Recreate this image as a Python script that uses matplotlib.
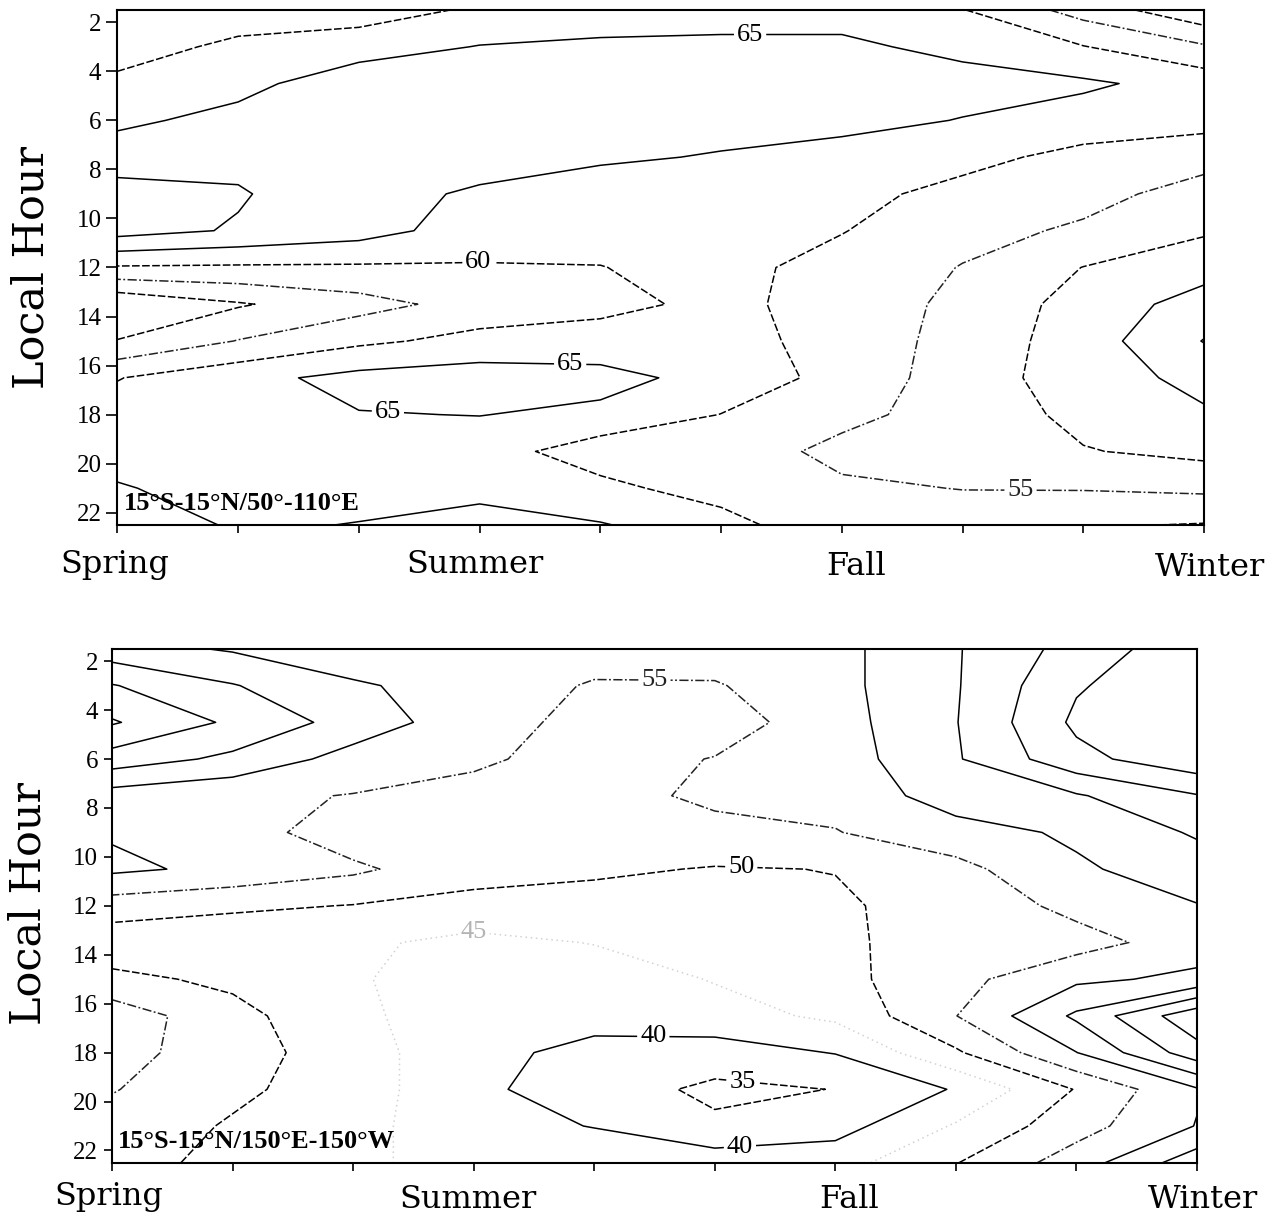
import numpy as np
import matplotlib
matplotlib.use("Agg")
import matplotlib.pyplot as plt
from matplotlib.transforms import ScaledTranslation

plt.rcParams["font.family"] = "Liberation Serif"
plt.rcParams["lines.dashed_pattern"] = [5.0, 1.6]
plt.rcParams["lines.dashdot_pattern"] = [6.0, 1.6, 1.2, 1.6]
plt.rcParams["lines.dotted_pattern"] = [1.0, 2.4]

# grid: local hour (3-hour bins split in halves) x month from spring to winter
hours = [1.5, 3.0, 4.5, 6.0, 7.5, 9.0, 10.5, 12.0, 13.5, 15.0, 16.5, 18.0, 19.5, 21.0, 22.5]
months = [0, 1, 2, 3, 4, 5, 6, 7, 8, 9]
season_labels = ["Spring", "", "", "Summer", "", "", "Fall", "", "", "Winter"]
hour_ticks = [2, 4, 6, 8, 10, 12, 14, 16, 18, 20, 22]

# one row per month, one value per local hour
indian_ocean = [
    [55.0, 58.0, 61.0, 64.0, 67.5, 72.0, 72.0, 59.5, 45.5, 50.2, 59.8, 62.0, 63.5, 65.3, 67.0],
    [57.5, 61.0, 63.5, 66.5, 68.5, 70.5, 69.5, 59.3, 49.5, 55.2, 63.5, 64.0, 63.0, 63.5, 64.6],
    [57.5, 62.8, 68.0, 69.0, 68.5, 66.3, 67.1, 59.3, 53.1, 59.0, 66.5, 64.8, 63.5, 64.0, 65.1],
    [60.8, 65.2, 66.5, 67.0, 66.5, 64.5, 62.5, 59.6, 57.0, 61.5, 67.5, 65.1, 62.5, 64.4, 65.8],
    [63.5, 65.5, 66.5, 66.5, 65.4, 63.6, 61.5, 59.9, 58.5, 62.3, 66.5, 64.0, 57.1, 61.5, 65.3],
    [64.0, 65.5, 66.5, 66.0, 64.8, 63.5, 62.5, 61.5, 61.3, 62.0, 63.4, 59.9, 57.0, 57.5, 62.3],
    [64.0, 65.5, 66.0, 65.8, 64.0, 61.5, 60.2, 58.2, 57.9, 58.0, 58.2, 56.0, 54.0, 55.6, 55.3],
    [60.2, 64.3, 66.0, 64.9, 61.5, 58.5, 56.5, 54.8, 53.8, 53.2, 52.5, 53.4, 53.5, 54.9, 57.0],
    [53.0, 60.2, 65.8, 62.8, 58.5, 56.5, 54.3, 49.9, 48.0, 47.5, 47.5, 48.5, 50.3, 54.7, 59.5],
    [46.0, 55.6, 63.1, 61.9, 56.6, 53.2, 50.6, 46.9, 42.9, 39.8, 43.5, 45.6, 48.6, 54.0, 60.3],
]

west_pacific = [
    [62.0, 70.3, 75.5, 67.7, 57.8, 59.5, 61.0, 52.5, 47.0, 51.2, 58.0, 57.0, 55.3, 53.0, 52.0],
    [59.5, 65.3, 69.1, 63.9, 56.0, 57.5, 58.8, 51.0, 46.0, 49.0, 51.5, 52.0, 51.0, 49.5, 48.5],
    [57.0, 60.6, 63.0, 58.0, 54.8, 52.0, 56.0, 49.8, 46.0, 45.5, 46.3, 47.5, 47.5, 46.5, 46.0],
    [57.0, 58.0, 57.0, 55.8, 53.5, 52.0, 51.5, 48.8, 43.5, 42.5, 41.5, 41.0, 41.0, 42.0, 43.0],
    [57.5, 54.5, 53.5, 53.0, 53.2, 52.0, 50.8, 48.1, 45.2, 42.2, 41.2, 39.0, 37.5, 39.8, 43.5],
    [57.5, 54.6, 52.5, 55.2, 56.0, 53.6, 49.7, 47.5, 46.3, 45.3, 43.0, 37.8, 33.9, 35.9, 42.7],
    [58.5, 58.5, 58.0, 57.5, 56.5, 54.8, 50.1, 49.5, 49.2, 48.5, 46.0, 40.2, 35.1, 38.0, 43.0],
    [64.6, 64.6, 64.8, 64.5, 62.5, 58.0, 53.5, 51.5, 52.0, 53.5, 54.9, 49.3, 40.4, 45.5, 49.8],
    [72.0, 74.5, 76.0, 73.5, 64.5, 60.8, 59.3, 56.5, 53.0, 59.0, 65.9, 59.9, 50.3, 53.0, 57.5],
    [78.4, 79.0, 79.0, 78.5, 69.7, 65.6, 62.5, 59.8, 57.6, 61.1, 78.7, 73.0, 59.5, 60.2, 68.0],
]

# level -> (linestyle, colour)
io_styles = {
    40: ("solid", "black"),
    45: ("solid", "black"),
    50: ("dashed", "black"),
    55: ("dashdot", "#222222"),
    60: ("dashed", "black"),
    65: ("solid", "black"),
    70: ("solid", "black"),
}
wp_styles = {
    35: ("dashed", "black"),
    40: ("solid", "black"),
    45: ("dotted", "#d2d2d2"),
    50: ("dashed", "black"),
    55: ("dashdot", "#222222"),
    60: ("solid", "black"),
    65: ("solid", "black"),
    70: ("solid", "black"),
    75: ("solid", "black"),
}

# (level, month, hour) where contour labels sit
io_labels = [(65, 5.24, 2.5), (60, 2.99, 11.8), (65, 3.75, 15.9), (65, 2.24, 17.9), (55, 7.48, 21.1)]
wp_labels = [(55, 4.5, 2.7), (50, 5.22, 10.35), (45, 3.0, 13.0), (40, 4.49, 17.3), (35, 5.23, 19.1), (40, 5.21, 21.95)]


def _shift_labels(fig, ax, offsets):
    for lab, (dx, dy) in zip(ax.get_xticklabels()[::3], offsets):
        lab.set_transform(lab.get_transform() + ScaledTranslation(dx / 72, dy / 72, fig.dpi_scale_trans))


def draw_panel(fig, rect, grid, styles, labels, region, ylen, ypad, xlen, xpad, offsets):
    ax = fig.add_axes(rect)
    z = np.array(grid).T
    ax.set_xlim(0, 9)
    ax.set_ylim(22.5, 1.5)

    for level, (ls, color) in styles.items():
        cs = ax.contour(months, hours, z, levels=[level], colors=color,
                        linewidths=1.1, linestyles=ls)
        spots = [(m, h) for lev, m, h in labels if lev == level]
        if spots:
            label_color = "#b4b4b4" if color != "black" and level == 45 else color
            texts = ax.clabel(cs, fmt="%d", manual=spots, inline=True,
                              inline_spacing=3, fontsize=19, colors=label_color)
            for t in texts:
                t.set_rotation(0)

    ax.set_xticks(months)
    ax.set_xticklabels(season_labels, fontfamily="DejaVu Serif", fontsize=23)
    ax.set_yticks(hour_ticks)
    ax.set_yticklabels([str(h) for h in hour_ticks], fontsize=18)
    ax.tick_params(axis="y", direction="out", length=ylen, width=1.2, pad=ypad)
    ax.tick_params(axis="x", direction="out", length=xlen, width=1.2, pad=xpad)
    for side in ax.spines.values():
        side.set_linewidth(1.5)
    _shift_labels(fig, ax, offsets)

    ax.text(0.05, 21.9, region, fontsize=19, fontweight="bold", va="baseline", ha="left")
    return ax


fig = plt.figure(figsize=(12.85, 12.18), dpi=100)

draw_panel(fig, [0.0914, 0.569, 0.8456, 0.4228], indian_ocean, io_styles, io_labels,
           "15°S-15°N/50°-110°E", 8, 3.5, 5.5, 12,
           [(-2, 0), (-3, 0), (10, -1), (4, -2)])
draw_panel(fig, [0.0872, 0.0454, 0.8443, 0.4218], west_pacific, wp_styles, wp_labels,
           "15°S-15°N/150°E-150°W", 6, 4, 6, 7,
           [(-2, 0), (-4, -2), (10, -2), (4, -2.5)])

fig.text(0.0249, 0.78, "Local Hour", rotation=90, ha="center", va="center",
         fontfamily="DejaVu Serif", fontsize=31)
fig.text(0.0218, 0.2578, "Local Hour", rotation=90, ha="center", va="center",
         fontfamily="DejaVu Serif", fontsize=31)

fig.savefig("out.png", dpi=100)
plt.close(fig)
